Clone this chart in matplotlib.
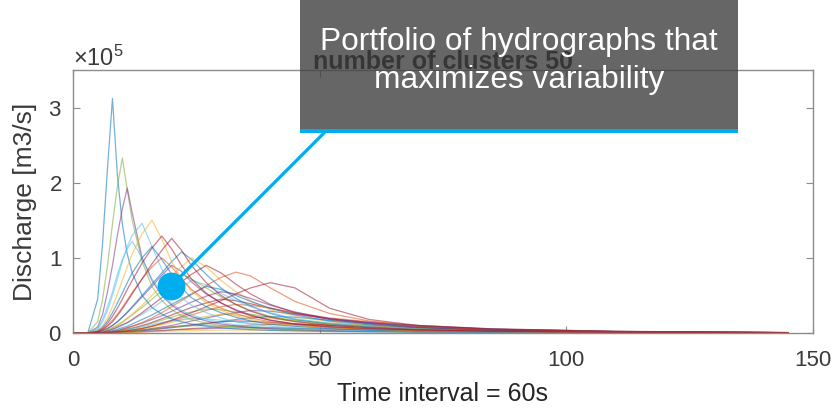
import matplotlib
matplotlib.use("Agg")
import matplotlib.pyplot as plt
from matplotlib.patches import Rectangle
from matplotlib.lines import Line2D

plt.rcParams["font.family"] = ["Liberation Sans", "DejaVu Sans"]
plt.rcParams["mathtext.fontset"] = "custom"
plt.rcParams["mathtext.rm"] = "Liberation Sans"
plt.rcParams["mathtext.it"] = "Liberation Sans:italic"
plt.rcParams["mathtext.bf"] = "Liberation Sans:bold"

# time steps (60 s intervals) at which each hydrograph is sampled
time_steps = [0, 3, 5, 6, 7, 8, 9, 10, 11, 12, 14, 16, 18, 20, 22, 24, 27,
              30, 33, 36, 40, 45, 52, 60, 70, 85, 110, 145]

# discharge in units of 1e5 m3/s
SCALE = 1e5

# early, sharply peaked hydrographs
steep = [
    [0, 0, 0.45, 1.2, 2.2, 3.12, 2.1, 1.45, 1.05, 0.8, 0.5, 0.34, 0.25, 0.19, 0.15, 0.12, 0.09, 0.07, 0.055, 0.045, 0.035, 0.028, 0.02, 0.015, 0.01, 0.006, 0.003, 0.001],
    [0, 0, 0.15, 0.45, 0.9, 1.45, 1.95, 2.33, 1.9, 1.5, 0.95, 0.62, 0.43, 0.31, 0.23, 0.18, 0.13, 0.1, 0.08, 0.065, 0.05, 0.04, 0.03, 0.022, 0.015, 0.009, 0.004, 0.001],
    [0, 0, 0.08, 0.25, 0.55, 0.9, 1.3, 1.65, 1.93, 1.6, 1.0, 0.7, 0.5, 0.37, 0.28, 0.22, 0.16, 0.12, 0.095, 0.075, 0.058, 0.045, 0.033, 0.025, 0.017, 0.01, 0.005, 0.001],
    [0, 0, 0.06, 0.18, 0.35, 0.55, 0.78, 0.98, 1.12, 1.22, 1.0, 0.72, 0.52, 0.39, 0.3, 0.24, 0.18, 0.14, 0.11, 0.09, 0.07, 0.055, 0.04, 0.03, 0.02, 0.012, 0.005, 0.001],
    [0, 0, 0.05, 0.15, 0.3, 0.5, 0.72, 0.95, 1.15, 1.3, 1.46, 1.15, 0.85, 0.62, 0.47, 0.37, 0.27, 0.2, 0.15, 0.12, 0.09, 0.07, 0.05, 0.036, 0.024, 0.014, 0.006, 0.002],
    [0, 0, 0.03, 0.08, 0.16, 0.27, 0.4, 0.53, 0.67, 0.8, 1.0, 1.15, 0.98, 0.78, 0.6, 0.47, 0.35, 0.27, 0.21, 0.16, 0.12, 0.09, 0.06, 0.04, 0.026, 0.015, 0.006, 0.002],
    [0, 0, 0.03, 0.1, 0.2, 0.35, 0.52, 0.7, 0.88, 1.05, 1.32, 1.5, 1.25, 0.95, 0.72, 0.56, 0.4, 0.3, 0.23, 0.18, 0.13, 0.1, 0.07, 0.05, 0.033, 0.02, 0.008, 0.002],
    [0, 0, 0.02, 0.05, 0.1, 0.17, 0.25, 0.34, 0.44, 0.54, 0.72, 0.88, 1.0, 0.88, 0.72, 0.58, 0.43, 0.33, 0.26, 0.2, 0.15, 0.11, 0.075, 0.05, 0.032, 0.018, 0.007, 0.002],
    [0, 0, 0.02, 0.06, 0.13, 0.22, 0.33, 0.45, 0.58, 0.7, 0.93, 1.13, 1.29, 1.12, 0.9, 0.72, 0.53, 0.4, 0.3, 0.23, 0.17, 0.12, 0.085, 0.06, 0.04, 0.024, 0.01, 0.003],
    [0, 0, 0.01, 0.04, 0.09, 0.15, 0.23, 0.32, 0.42, 0.52, 0.72, 0.92, 1.1, 1.26, 1.1, 0.9, 0.67, 0.5, 0.38, 0.29, 0.21, 0.15, 0.1, 0.07, 0.045, 0.026, 0.011, 0.003],
]

# hydrographs with intermediate peaks
moderate = [
    [0, 0, 0.01, 0.03, 0.06, 0.1, 0.15, 0.21, 0.27, 0.34, 0.48, 0.62, 0.77, 0.9, 0.82, 0.68, 0.52, 0.4, 0.31, 0.24, 0.17, 0.12, 0.08, 0.055, 0.035, 0.02, 0.008, 0.002],
    [0, 0, 0.01, 0.03, 0.06, 0.1, 0.15, 0.21, 0.28, 0.35, 0.5, 0.65, 0.8, 0.95, 1.08, 0.98, 0.78, 0.6, 0.46, 0.36, 0.26, 0.18, 0.12, 0.08, 0.05, 0.03, 0.012, 0.003],
    [0, 0, 0, 0.02, 0.04, 0.07, 0.1, 0.14, 0.19, 0.24, 0.34, 0.45, 0.56, 0.68, 0.78, 0.72, 0.6, 0.48, 0.38, 0.3, 0.22, 0.16, 0.11, 0.075, 0.045, 0.025, 0.01, 0.002],
    [0, 0, 0, 0.02, 0.04, 0.07, 0.11, 0.15, 0.2, 0.25, 0.37, 0.5, 0.63, 0.76, 0.88, 1.0, 0.88, 0.7, 0.55, 0.43, 0.31, 0.22, 0.15, 0.1, 0.06, 0.035, 0.014, 0.004],
    [0, 0, 0, 0.01, 0.03, 0.05, 0.07, 0.1, 0.13, 0.17, 0.25, 0.33, 0.42, 0.51, 0.6, 0.7, 0.64, 0.53, 0.43, 0.35, 0.27, 0.19, 0.13, 0.09, 0.055, 0.03, 0.012, 0.003],
    [0, 0, 0, 0.01, 0.03, 0.05, 0.08, 0.11, 0.14, 0.18, 0.27, 0.37, 0.47, 0.58, 0.68, 0.78, 0.9, 0.8, 0.65, 0.52, 0.38, 0.27, 0.18, 0.12, 0.075, 0.04, 0.016, 0.004],
    [0, 0, 0, 0.01, 0.02, 0.03, 0.05, 0.07, 0.09, 0.12, 0.18, 0.24, 0.31, 0.38, 0.45, 0.52, 0.62, 0.58, 0.5, 0.42, 0.33, 0.24, 0.16, 0.11, 0.07, 0.038, 0.015, 0.004],
    [0, 0, 0, 0, 0.01, 0.02, 0.03, 0.05, 0.07, 0.09, 0.13, 0.18, 0.23, 0.29, 0.35, 0.41, 0.49, 0.55, 0.52, 0.46, 0.37, 0.28, 0.19, 0.13, 0.08, 0.042, 0.016, 0.004],
    [0, 0, 0, 0, 0.01, 0.02, 0.03, 0.05, 0.07, 0.09, 0.14, 0.2, 0.27, 0.35, 0.43, 0.51, 0.63, 0.74, 0.81, 0.76, 0.6, 0.42, 0.26, 0.16, 0.09, 0.045, 0.017, 0.004],
    [0, 0, 0, 0, 0, 0.01, 0.015, 0.02, 0.03, 0.04, 0.06, 0.09, 0.13, 0.17, 0.22, 0.27, 0.35, 0.43, 0.52, 0.6, 0.67, 0.6, 0.33, 0.18, 0.1, 0.05, 0.02, 0.005],
]

# low, delayed hydrographs
subdued = [
    [0, 0, 0, 0, 0.01, 0.015, 0.025, 0.035, 0.05, 0.065, 0.1, 0.14, 0.19, 0.24, 0.29, 0.34, 0.4, 0.45, 0.43, 0.39, 0.33, 0.26, 0.19, 0.14, 0.09, 0.05, 0.02, 0.005],
    [0, 0, 0, 0, 0, 0.01, 0.015, 0.02, 0.03, 0.04, 0.06, 0.09, 0.12, 0.16, 0.2, 0.24, 0.3, 0.35, 0.38, 0.37, 0.33, 0.27, 0.2, 0.15, 0.1, 0.055, 0.022, 0.006],
    [0, 0, 0, 0.005, 0.01, 0.015, 0.025, 0.035, 0.05, 0.06, 0.09, 0.13, 0.17, 0.21, 0.25, 0.28, 0.32, 0.31, 0.28, 0.25, 0.21, 0.17, 0.13, 0.1, 0.07, 0.04, 0.016, 0.004],
    [0, 0, 0, 0, 0, 0, 0.01, 0.015, 0.02, 0.025, 0.04, 0.06, 0.08, 0.1, 0.13, 0.16, 0.2, 0.24, 0.27, 0.3, 0.29, 0.25, 0.19, 0.14, 0.1, 0.055, 0.022, 0.006],
    [0, 0, 0, 0, 0.005, 0.01, 0.015, 0.02, 0.03, 0.04, 0.06, 0.08, 0.11, 0.14, 0.17, 0.19, 0.22, 0.25, 0.24, 0.22, 0.19, 0.16, 0.12, 0.09, 0.065, 0.038, 0.016, 0.004],
    [0, 0, 0, 0, 0, 0, 0, 0.01, 0.015, 0.02, 0.03, 0.04, 0.055, 0.07, 0.085, 0.1, 0.12, 0.15, 0.18, 0.2, 0.22, 0.21, 0.17, 0.13, 0.09, 0.05, 0.02, 0.005],
    [0, 0, 0, 0.005, 0.01, 0.02, 0.03, 0.04, 0.05, 0.06, 0.08, 0.11, 0.14, 0.16, 0.18, 0.2, 0.19, 0.17, 0.15, 0.13, 0.11, 0.09, 0.07, 0.055, 0.04, 0.025, 0.01, 0.003],
    [0, 0, 0, 0, 0, 0.005, 0.01, 0.015, 0.02, 0.025, 0.035, 0.05, 0.065, 0.08, 0.095, 0.11, 0.13, 0.15, 0.16, 0.155, 0.14, 0.12, 0.1, 0.08, 0.055, 0.032, 0.013, 0.003],
    [0, 0, 0, 0, 0, 0, 0, 0, 0.005, 0.01, 0.015, 0.02, 0.03, 0.04, 0.05, 0.06, 0.07, 0.085, 0.095, 0.105, 0.115, 0.12, 0.11, 0.09, 0.065, 0.038, 0.016, 0.004],
    [0, 0, 0, 0, 0.005, 0.01, 0.015, 0.02, 0.025, 0.03, 0.04, 0.055, 0.07, 0.08, 0.09, 0.095, 0.1, 0.095, 0.088, 0.08, 0.07, 0.06, 0.05, 0.04, 0.03, 0.018, 0.008, 0.002],
    [0, 0, 0, 0, 0, 0, 0.005, 0.008, 0.01, 0.013, 0.018, 0.025, 0.032, 0.04, 0.046, 0.052, 0.058, 0.064, 0.068, 0.07, 0.068, 0.062, 0.052, 0.042, 0.03, 0.018, 0.008, 0.002],
    [0, 0, 0, 0, 0, 0, 0, 0.005, 0.007, 0.009, 0.013, 0.017, 0.021, 0.025, 0.029, 0.032, 0.036, 0.04, 0.039, 0.037, 0.034, 0.03, 0.025, 0.02, 0.015, 0.01, 0.005, 0.001],
]

x_ticks = [0, 50, 100, 150]
y_ticks = [0, 1e5, 2e5, 3e5]

# MATLAB default line colour order
palette = ["#0072BD", "#D95319", "#EDB120", "#7E2F8E", "#77AC30", "#4DBEEE", "#A2142F"]
steep_colors = [0, 4, 3, 5, 5, 0, 2, 1, 6, 6]
moderate_colors = [3, 0, 4, 2, 5, 6, 0, 3, 1, 6]
subdued_colors = [6, 1, 4, 3, 2, 0, 5, 6, 1, 4, 3, 2]

fig = plt.figure(figsize=(8.37, 4.16), dpi=100)
W, H = 837.0, 416.0
ax = fig.add_axes([73 / W, 1 - 333 / H, 740 / W, 263 / H])

for group, cidx in ((subdued, subdued_colors), (moderate, moderate_colors), (steep, steep_colors)):
    for curve, ci in zip(group, cidx):
        ax.plot(time_steps, [v * SCALE for v in curve], color=palette[ci],
                lw=0.9, alpha=0.55, solid_joinstyle="round")

ax.set_xlim(0, 150)
ax.set_ylim(0, 3.5e5)
ax.set_xticks(x_ticks)
ax.set_yticks(y_ticks)
ax.ticklabel_format(axis="y", style="sci", scilimits=(0, 0), useMathText=True)
ax.yaxis.get_offset_text().set_fontsize(17)
ax.yaxis.get_offset_text().set_color("#333333")

for s in ax.spines.values():
    s.set_color("#8c8c8c")
    s.set_linewidth(1.0)
ax.tick_params(direction="in", top=True, right=True, length=5, width=0.8,
               color="#8c8c8c", labelsize=16, labelcolor="#3a3a3a")
ax.tick_params(axis="x", pad=12)
ax.tick_params(axis="y", pad=8)

ax.set_xlabel("Time interval = 60s", fontsize=18, color="#262626", labelpad=8)
ax.set_ylabel("Discharge [m3/s]", fontsize=19, color="#3a3a3a", labelpad=8)
ax.set_title("number of clusters 50", fontsize=18, fontweight="bold",
             color="#111111", pad=1)

# annotation overlay
def fx(px):
    return px / W

def fy(py):
    return 1 - py / H

fig.patches.append(Rectangle((fx(300), fy(129)), 438 / W, 129 / H,
                             transform=fig.transFigure, facecolor="#404040",
                             alpha=0.8, edgecolor="none", zorder=5))
fig.patches.append(Rectangle((fx(300), fy(132.5)), 438 / W, 3.5 / H,
                             transform=fig.transFigure, facecolor="#00AEEF",
                             edgecolor="none", zorder=6))
fig.text(fx(519), fy(50), "Portfolio of hydrographs that", color="white",
         fontsize=22.8, ha="center", va="baseline", zorder=7)
fig.text(fx(519), fy(88), "maximizes variability", color="white",
         fontsize=22.8, ha="center", va="baseline", zorder=7)
fig.lines.append(Line2D([fx(171), fx(326)], [fy(286), fy(131)],
                        transform=fig.transFigure, color="#00AEEF", lw=2.3,
                        zorder=6))
fig.lines.append(Line2D([fx(171)], [fy(286)], transform=fig.transFigure,
                        marker="o", markersize=19, markerfacecolor="#00AEEF",
                        markeredgecolor="#00AEEF", zorder=7))

fig.savefig("out.png", dpi=100)
